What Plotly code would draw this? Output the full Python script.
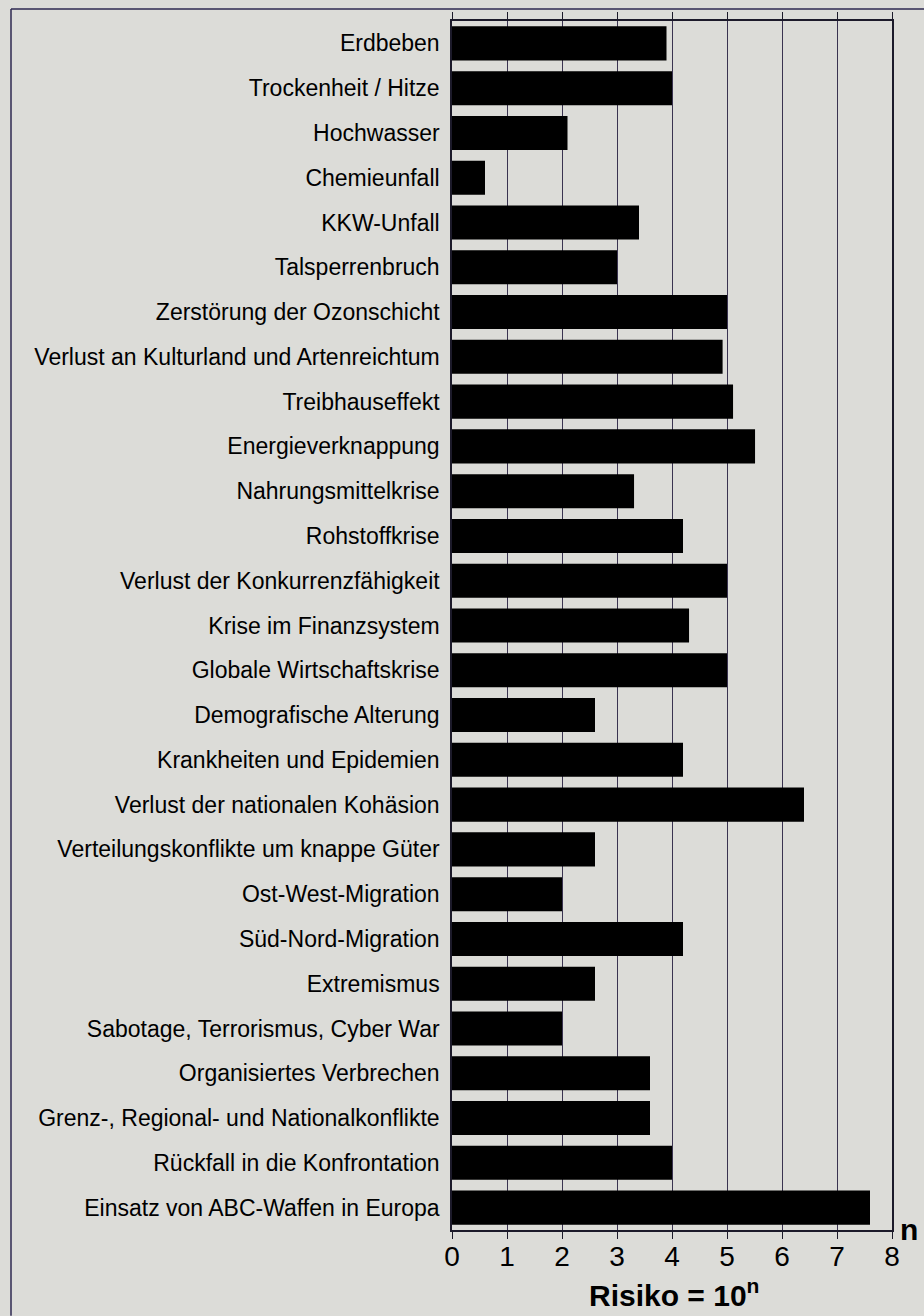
import plotly.graph_objects as go

categories = [
    "Erdbeben",
    "Trockenheit / Hitze",
    "Hochwasser",
    "Chemieunfall",
    "KKW-Unfall",
    "Talsperrenbruch",
    "Zerstörung der Ozonschicht",
    "Verlust an Kulturland und Artenreichtum",
    "Treibhauseffekt",
    "Energieverknappung",
    "Nahrungsmittelkrise",
    "Rohstoffkrise",
    "Verlust der Konkurrenzfähigkeit",
    "Krise im Finanzsystem",
    "Globale Wirtschaftskrise",
    "Demografische Alterung",
    "Krankheiten und Epidemien",
    "Verlust der nationalen Kohäsion",
    "Verteilungskonflikte um knappe Güter",
    "Ost-West-Migration",
    "Süd-Nord-Migration",
    "Extremismus",
    "Sabotage, Terrorismus, Cyber War",
    "Organisiertes Verbrechen",
    "Grenz-, Regional- und Nationalkonflikte",
    "Rückfall in die Konfrontation",
    "Einsatz von ABC-Waffen in Europa",
]

risk_exponent = [
    3.9, 4.0, 2.1, 0.6, 3.4, 3.0, 5.0, 4.92, 5.11, 5.51,
    3.31, 4.2, 5.0, 4.31, 5.0, 2.6, 4.2, 6.4, 2.6, 2.0,
    4.2, 2.6, 2.0, 3.6, 3.6, 4.0, 7.6,
]

x_ticks = [0, 1, 2, 3, 4, 5, 6, 7, 8]

W, H = 924, 1316
L, R, T, B = 452, 32, 17, 86
pw, ph = W - L - R, H - T - B

def px_x(p):
    return (p - L) / pw

def px_y(p):
    return (H - B - p) / ph

bg = "#dcdcd8"
ink = "#1c1a2a"
font_family = "Liberation Sans, Arial, Helvetica, sans-serif"

fig = go.Figure(
    go.Bar(
        x=risk_exponent,
        y=categories,
        orientation="h",
        marker=dict(color="black", line=dict(width=0)),
        width=0.76,
        hoverinfo="x+y",
    )
)

fig.update_layout(
    width=W,
    height=H,
    margin=dict(l=L, r=R, t=T, b=B, pad=0),
    paper_bgcolor=bg,
    plot_bgcolor=bg,
    showlegend=False,
    font=dict(family=font_family, color="black"),
    xaxis=dict(
        range=[0, 8],
        tickvals=x_ticks,
        ticktext=[str(v) for v in x_ticks],
        showgrid=True,
        gridcolor="#3a3350",
        gridwidth=1,
        zeroline=False,
        showline=True,
        linecolor=ink,
        linewidth=1.5,
        mirror="ticks",
        ticks="outside",
        ticklen=7,
        tickwidth=1.2,
        tickcolor=ink,
        ticklabelstandoff=-6,
        tickfont=dict(size=28, family=font_family, color="black"),
        fixedrange=True,
    ),
    yaxis=dict(
        categoryorder="array",
        categoryarray=categories,
        autorange="reversed",
        showgrid=False,
        zeroline=False,
        showline=True,
        linecolor=ink,
        linewidth=1.5,
        mirror=True,
        ticks="",
        ticklabelstandoff=6,
        tickfont=dict(size=23, family=font_family, color="black"),
        fixedrange=True,
    ),
    annotations=[
        dict(
            text="<b>n</b>",
            xref="paper", yref="paper",
            x=px_x(909), y=px_y(1229),
            xanchor="center", yanchor="middle",
            showarrow=False,
            font=dict(size=30, family=font_family, color="black"),
        ),
        dict(
            text="<b>Risiko = 10<sup>n</sup></b>",
            xref="paper", yref="paper",
            x=px_x(674), y=px_y(1293),
            xanchor="center", yanchor="middle",
            showarrow=False,
            font=dict(size=30, family=font_family, color="black"),
        ),
    ],
    shapes=[
        dict(type="line", xref="paper", yref="paper",
             x0=px_x(11), x1=px_x(11), y0=px_y(5), y1=px_y(1316),
             line=dict(color="#2e2850", width=1.5)),
        dict(type="line", xref="paper", yref="paper",
             x0=px_x(11), x1=px_x(924), y0=px_y(5), y1=px_y(5),
             line=dict(color="#2e2850", width=1.5)),
    ],
)

fig.write_html(
    "out.html",
    config={"displayModeBar": False},
    post_script="document.body.style.margin='0';document.body.style.padding='0';document.body.style.overflow='hidden';",
)
